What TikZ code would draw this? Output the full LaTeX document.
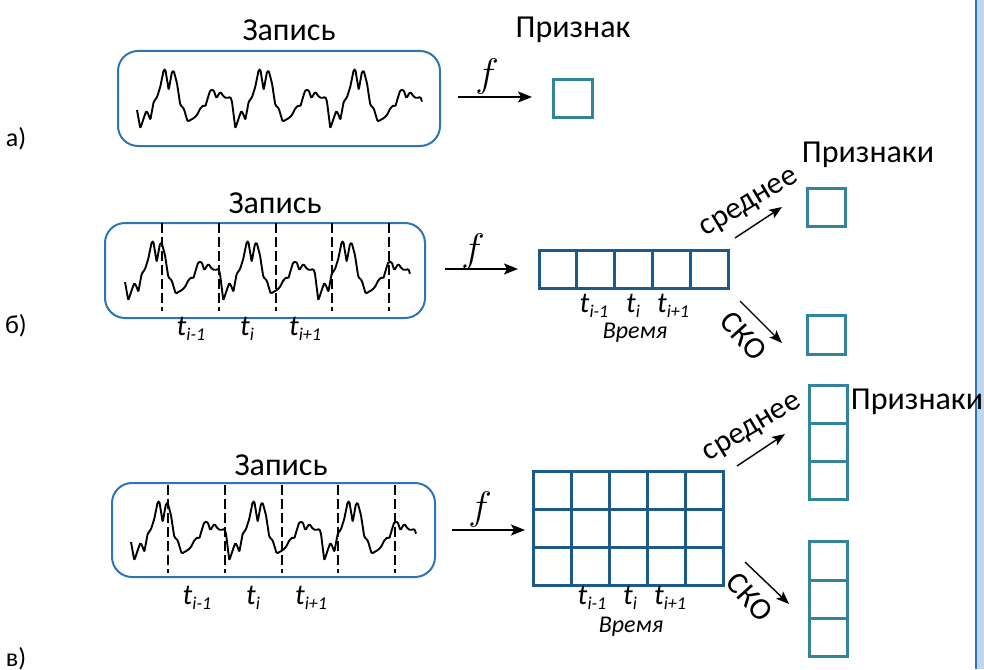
\documentclass[tikz,border=0pt]{standalone}
\usepackage{fontspec}
\setmainfont{Carlito}
\usetikzlibrary{arrows.meta}

\definecolor{recblue}{HTML}{2E75B6}
\definecolor{featteal}{HTML}{31849B}
\definecolor{griddark}{HTML}{1B5A8A}
\definecolor{edgefill}{HTML}{BDD7EE}

% time index label t with a lowered subscript
\newcommand\tlab[1]{\textit{t}\raisebox{-5pt}{\fontsize{18}{18}\selectfont\textit{#1}}}
% the mapping symbol, enlarged beyond the largest math size
\newcommand\mapf{\scalebox{1.6}{$f$}}

\tikzset{
  recbox/.style={draw=recblue, line width=2pt, rounded corners=20pt, inner sep=0pt},
  wave/.style={line width=1.9pt, line join=round, rounded corners=1.2pt},
  cut/.style={line width=1.4pt, dash pattern=on 10pt off 4pt},
  cell/.style={draw=griddark, line width=3pt, minimum width=37.8pt, minimum height=38pt, inner sep=0pt},
  cellc/.style={draw=griddark, line width=3pt, minimum width=38pt, minimum height=38pt, inner sep=0pt},
  feat/.style={draw=featteal, line width=3pt, minimum width=38pt, minimum height=38pt, inner sep=0pt},
  maparrow/.style={line width=1.6pt, -{Stealth[length=14pt,width=11pt,inset=3pt]}},
  statarrow/.style={line width=1.4pt, -{Stealth[length=13pt,width=10pt,inset=3pt]}},
  title/.style={font=\fontsize{32}{32}\selectfont, inner sep=0pt},
  panel/.style={font=\fontsize{26}{26}\selectfont, inner sep=0pt},
  stat/.style={font=\fontsize{31}{31}\selectfont, inner sep=0pt},
  fsym/.style={font=\fontsize{24}{24}\selectfont, inner sep=0pt},
  tl/.style={font=\fontsize{29}{29}\selectfont, inner sep=0pt},
  axis/.style={font=\fontsize{24}{24}\selectfont\itshape, inner sep=0pt},
  ecg/.pic={
    \draw[wave] (0,0) foreach \k in {0,1,2} {
      -- (\k*95+3.3,18.3) -- (\k*95+6.7,8.3) -- (\k*95+9.3,0.7) -- (\k*95+11.7,5)
      -- (\k*95+13.3,10) -- (\k*95+16.7,-8.3) -- (\k*95+20,-12.7) -- (\k*95+23.3,-23.3)
      -- (\k*95+26.7,-40) -- (\k*95+28.3,-40.7) -- (\k*95+31.7,-20) -- (\k*95+35,-38.3)
      -- (\k*95+36.7,-39.3) -- (\k*95+40,-26.7) -- (\k*95+43.3,-5) -- (\k*95+46.7,-1.7)
      -- (\k*95+50.7,11.7) -- (\k*95+53.3,10) -- (\k*95+56.7,8.3) -- (\k*95+60,5)
      -- (\k*95+63.3,-1.7) -- (\k*95+66.7,-5) -- (\k*95+68.3,-3.3) -- (\k*95+70.7,-11.7)
      -- (\k*95+73.3,-20) -- (\k*95+76.7,-20) -- (\k*95+79.3,-11.7) -- (\k*95+83.3,-18.3)
      -- (\k*95+86.7,-13.3) -- (\k*95+90,-11.7) -- (\k*95+93.3,-13.3) -- (\k*95+95,-8.3)
    };
  }
}

\begin{document}
\begin{tikzpicture}[x=1pt,y=-1pt]
\useasboundingbox (0,0) rectangle (984,669);

% right margin strip
\fill[edgefill] (976,0) rectangle (984,669);
\draw[recblue, line width=1.5pt] (976,0) -- (976,669);

% ---------- a) whole record -> single feature ----------
\node[panel] (pa) at (16,139) {а)};
\node[title] (recAtitle) at (289,30) {Запись};
\node[recbox, minimum width=322pt, minimum height=95pt] (recA) at (279,98.5) {};
\pic at (137,110) {ecg};
\node[fsym] (fA) at (487,77) {\mapf};
\coordinate (mA0) at (458,97);
\coordinate (mA1) at (532,97);
\draw[maparrow] (mA0) -- (mA1);
\node[feat, minimum width=39pt] (featA) at (572.5,98) {};
\node[title] (featAtitle) at (573,30) {Признак};

% ---------- b) framed record -> feature sequence ----------
\node[panel] (pb) at (16,326) {б)};
\node[title] (recBtitle) at (275,203) {Запись};
\node[recbox, minimum width=320pt, minimum height=95pt] (recB) at (265,270.5) {};
\pic at (125,282) {ecg};
\foreach \x in {162,219,276,332,389}
  \draw[cut] (\x,223) -- (\x,311);
\node[tl] (tb1) at (191,329) {\tlab{i-1}};
\node[tl] (tb2) at (247,329) {\tlab{i}};
\node[tl] (tb3) at (305,329) {\tlab{i+1}};

\node[fsym] (fB) at (473,252) {\mapf};
\coordinate (mB0) at (445,269);
\coordinate (mB1) at (518,269);
\draw[maparrow] (mB0) -- (mB1);
\foreach \i in {0,...,4}
  \node[cell] (rowB\i) at (557.9+\i*37.8,269) {};
\node[tl] (gb1) at (594,306) {\tlab{i-1}};
\node[tl] (gb2) at (633,306) {\tlab{i}};
\node[tl] (gb3) at (673,306) {\tlab{i+1}};
\node[axis] (timeB) at (635,333) {Время};

\coordinate (sB0) at (735,238);
\coordinate (sB1) at (782,207);
\draw[statarrow] (sB0) -- (sB1);
\node[stat, rotate=31] (meanB) at (750,204) {среднее};
\coordinate (dB0) at (740,301);
\coordinate (dB1) at (782,343);
\draw[statarrow] (dB0) -- (dB1);
\node[stat, rotate=-48] (sdB) at (744,336) {СКО};
\node[feat] (featB1) at (826.5,207) {};
\node[feat, minimum height=39pt] (featB2) at (826.5,334.5) {};
\node[title] (featBtitle) at (868,155) {Признаки};

% ---------- c) framed record -> feature matrix ----------
\node[panel] (pc) at (16,659) {в)};
\node[title] (recCtitle) at (281,465) {Запись};
\node[recbox, minimum width=323pt, minimum height=94pt] (recC) at (273.5,530) {};
\pic at (131,542) {ecg};
\foreach \x in {168,225,282,338,395}
  \draw[cut] (\x,485) -- (\x,573);
\node[tl] (tc1) at (197,598) {\tlab{i-1}};
\node[tl] (tc2) at (253,598) {\tlab{i}};
\node[tl] (tc3) at (311,598) {\tlab{i+1}};

\node[fsym] (fC) at (480,510) {\mapf};
\coordinate (mC0) at (452,530);
\coordinate (mC1) at (525,530);
\draw[maparrow] (mC0) -- (mC1);
\foreach \i in {0,...,4}
  \foreach \j in {0,1,2}
    \node[cellc] (gridC\i\j) at (552+\i*38,490+\j*38) {};
\node[tl] (gc1) at (592,598) {\tlab{i-1}};
\node[tl] (gc2) at (630,598) {\tlab{i}};
\node[tl] (gc3) at (670,598) {\tlab{i+1}};
\node[axis] (timeC) at (631,627) {Время};

\coordinate (sC0) at (737,466);
\coordinate (sC1) at (785,434);
\draw[statarrow] (sC0) -- (sC1);
\node[stat, rotate=31] (meanC) at (753,429) {среднее};
\coordinate (dC0) at (745,562);
\coordinate (dC1) at (789,604);
\draw[statarrow] (dC0) -- (dC1);
\node[stat, rotate=-48] (sdC) at (750,597) {СКО};
\foreach \j in {0,1,2}
  \node[feat] (featCm\j) at (828,404+\j*38) {};
\foreach \j in {0,1,2}
  \node[feat, minimum height=38.3pt] (featCs\j) at (828,561+\j*38.3) {};
\node[title] (featCtitle) at (917,402) {Признаки};
\end{tikzpicture}
\end{document}
